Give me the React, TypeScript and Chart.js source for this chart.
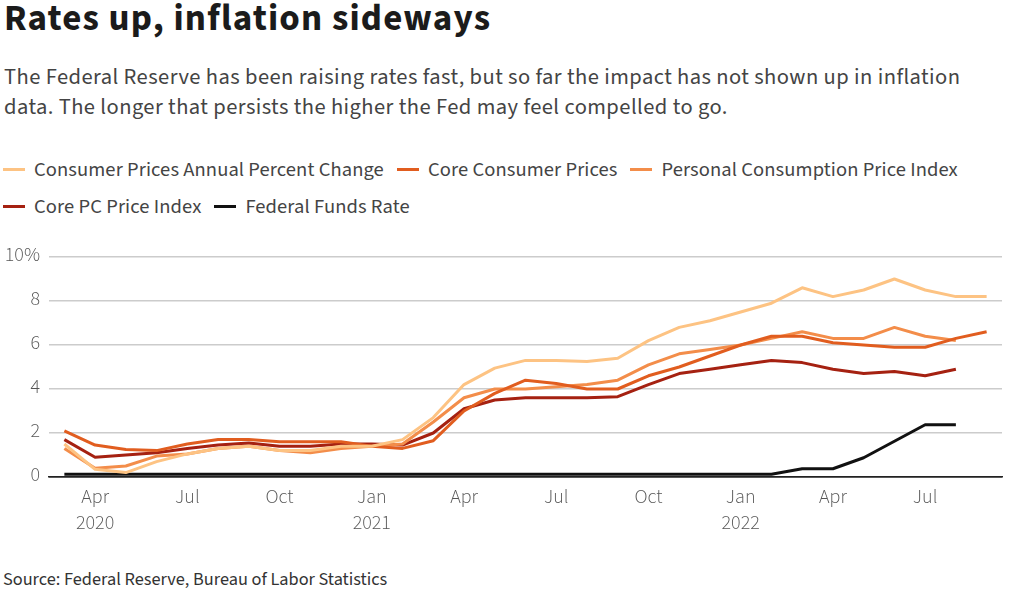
import React, { useEffect, useRef } from 'react';
import { Chart, registerables } from 'chart.js';

Chart.register(...registerables);

const months: string[] = [
  'Mar 2020', 'Apr 2020', 'May 2020', 'Jun 2020', 'Jul 2020', 'Aug 2020', 'Sep 2020', 'Oct 2020', 'Nov 2020', 'Dec 2020',
  'Jan 2021', 'Feb 2021', 'Mar 2021', 'Apr 2021', 'May 2021', 'Jun 2021', 'Jul 2021', 'Aug 2021', 'Sep 2021', 'Oct 2021', 'Nov 2021', 'Dec 2021',
  'Jan 2022', 'Feb 2022', 'Mar 2022', 'Apr 2022', 'May 2022', 'Jun 2022', 'Jul 2022', 'Aug 2022', 'Sep 2022',
];

const consumerPrices: number[] = [
  1.5, 0.35, 0.2, 0.7, 1.05, 1.3, 1.4, 1.2, 1.2, 1.4,
  1.4, 1.7, 2.7, 4.2, 4.95, 5.3, 5.3, 5.25, 5.4, 6.2, 6.8, 7.1,
  7.5, 7.9, 8.6, 8.2, 8.5, 9.0, 8.5, 8.2, 8.2,
];

const coreConsumerPrices: number[] = [
  2.1, 1.45, 1.25, 1.2, 1.5, 1.7, 1.7, 1.6, 1.6, 1.6,
  1.4, 1.3, 1.65, 3.0, 3.8, 4.4, 4.25, 4.0, 4.0, 4.6, 5.0, 5.5,
  6.0, 6.4, 6.4, 6.1, 6.0, 5.9, 5.9, 6.3, 6.6,
];

const pcePriceIndex: number[] = [
  1.3, 0.4, 0.5, 0.95, 1.05, 1.3, 1.4, 1.2, 1.1, 1.3,
  1.4, 1.5, 2.5, 3.6, 4.0, 4.0, 4.1, 4.2, 4.4, 5.1, 5.6, 5.8,
  6.0, 6.3, 6.6, 6.3, 6.3, 6.8, 6.4, 6.2,
];

const corePcePriceIndex: number[] = [
  1.7, 0.9, 1.0, 1.1, 1.3, 1.45, 1.55, 1.4, 1.4, 1.5,
  1.5, 1.45, 2.0, 3.1, 3.5, 3.6, 3.6, 3.6, 3.65, 4.2, 4.7, 4.9,
  5.1, 5.3, 5.2, 4.9, 4.7, 4.8, 4.6, 4.9,
];

const fedFundsRate: number[] = [
  0.125, 0.125, 0.125, 0.125, 0.125, 0.125, 0.125, 0.125, 0.125, 0.125,
  0.125, 0.125, 0.125, 0.125, 0.125, 0.125, 0.125, 0.125, 0.125, 0.125, 0.125, 0.125,
  0.125, 0.125, 0.375, 0.375, 0.875, 1.625, 2.375, 2.375,
];

const yTicks: number[] = [0, 2, 4, 6, 8, 10];
const shownMonths: string[] = ['Jan', 'Apr', 'Jul', 'Oct'];

const series = [
  { label: 'Consumer Prices Annual Percent Change', data: consumerPrices, color: '#fdc383' },
  { label: 'Core Consumer Prices', data: coreConsumerPrices, color: '#e15d1f' },
  { label: 'Personal Consumption Price Index', data: pcePriceIndex, color: '#f38d4a' },
  { label: 'Core PC Price Index', data: corePcePriceIndex, color: '#a52111' },
  { label: 'Federal Funds Rate', data: fedFundsRate, color: '#111111' },
];

const FONT = "'Source Sans Pro', 'Source Sans 3', Lato, sans-serif";

export default function App() {
  const canvasRef = useRef<HTMLCanvasElement | null>(null);

  useEffect(() => {
    if (!canvasRef.current) return;
    const chart = new Chart(canvasRef.current, {
      type: 'line',
      data: {
        labels: months,
        datasets: series.map((s) => ({
          label: s.label,
          data: s.data,
          borderColor: s.color,
          backgroundColor: s.color,
          borderWidth: 3,
          pointRadius: 0,
          tension: 0,
          fill: false,
          borderJoinStyle: 'round' as const,
          borderCapStyle: 'butt' as const,
        })),
      },
      options: {
        animation: false,
        responsive: true,
        maintainAspectRatio: false,
        layout: { padding: { top: 15, right: 27, left: 0, bottom: 0 } },
        plugins: { legend: { display: false }, tooltip: { enabled: false } },
        scales: {
          x: {
            type: 'category',
            offset: true,
            afterFit: (scale: any) => {
              scale.height = 70;
              scale.paddingLeft = 0;
              scale.paddingRight = 0;
            },
            grid: { display: false, drawTicks: false },
            border: { display: true, color: '#222222', width: 1.5 },
            ticks: {
              autoSkip: false,
              maxRotation: 0,
              minRotation: 0,
              padding: 9,
              color: '#555555',
              font: { family: FONT, size: 20, weight: 300 as any, lineHeight: 1.3 },
              callback: function (this: any, value: any, index: number) {
                const lab: string = months[index];
                const [m, y] = lab.split(' ');
                if (!shownMonths.includes(m)) return null;
                if (m === 'Jan' || index === 1) return [m, y];
                return m;
              },
            },
          },
          y: {
            min: 0,
            max: 10,
            afterBuildTicks: (scale: any) => {
              scale.ticks = yTicks.map((v) => ({ value: v }));
            },
            afterFit: (scale: any) => {
              scale.width = 49;
              scale.paddingTop = 0;
              scale.paddingBottom = 0;
            },
            border: { display: false },
            grid: {
              drawTicks: false,
              lineWidth: 1.5,
              color: (ctx: any) => (ctx.tick && ctx.tick.value === 0 ? '#222222' : '#cccccc'),
            },
            ticks: {
              padding: 9,
              color: '#555555',
              font: { family: FONT, size: 20, weight: 300 as any },
              callback: (v: any) => (Number(v) === 10 ? '10%' : String(v)),
            },
          },
        },
      },
    });
    return () => chart.destroy();
  }, []);

  const gapAfter = 13;
  const gapDash = 9;

  return (
    <div
      style={{
        position: 'absolute',
        top: 0,
        left: 0,
        width: 1029,
        height: 595,
        background: '#ffffff',
        fontFamily: FONT,
        overflow: 'hidden',
      }}
    >
      <div
        style={{
          position: 'absolute',
          left: 4,
          top: -3,
          fontSize: 37,
          lineHeight: '44px',
          fontWeight: 700,
          letterSpacing: 1.15,
          color: '#1b1b1b',
          whiteSpace: 'nowrap',
        }}
      >
        Rates up, inflation sideways
      </div>
      <div
        style={{
          position: 'absolute',
          left: 4,
          top: 61.5,
          fontSize: 22.5,
          lineHeight: '30px',
          letterSpacing: 0.43,
          color: '#444444',
          whiteSpace: 'nowrap',
        }}
      >
        The Federal Reserve has been raising rates fast, but so far the impact has not shown up in inflation
        <br />
        data. The longer that persists the higher the Fed may feel compelled to go.
      </div>
      <div style={{ position: 'absolute', left: 3, top: 151, fontSize: 20.5, letterSpacing: 0.1, color: '#444444' }}>
        {[series.slice(0, 3), series.slice(3)].map((row, ri) => (
          <div key={ri} style={{ display: 'flex', alignItems: 'center', height: 37, whiteSpace: 'nowrap' }}>
            {row.map((s) => (
              <div key={s.label} style={{ display: 'flex', alignItems: 'center', marginRight: gapAfter }}>
                <span style={{ display: 'inline-block', width: 22, height: 3, background: s.color, marginRight: gapDash }} />
                <span>{s.label}</span>
              </div>
            ))}
          </div>
        ))}
      </div>
      <div style={{ position: 'absolute', left: 0, top: 242, width: 1029, height: 305 }}>
        <canvas ref={canvasRef} />
      </div>
      <div
        style={{
          position: 'absolute',
          left: 3,
          top: 569,
          fontSize: 18.3,
          lineHeight: '20px',
          color: '#333333',
          whiteSpace: 'nowrap',
        }}
      >
        Source: Federal Reserve, Bureau of Labor Statistics
      </div>
    </div>
  );
}
